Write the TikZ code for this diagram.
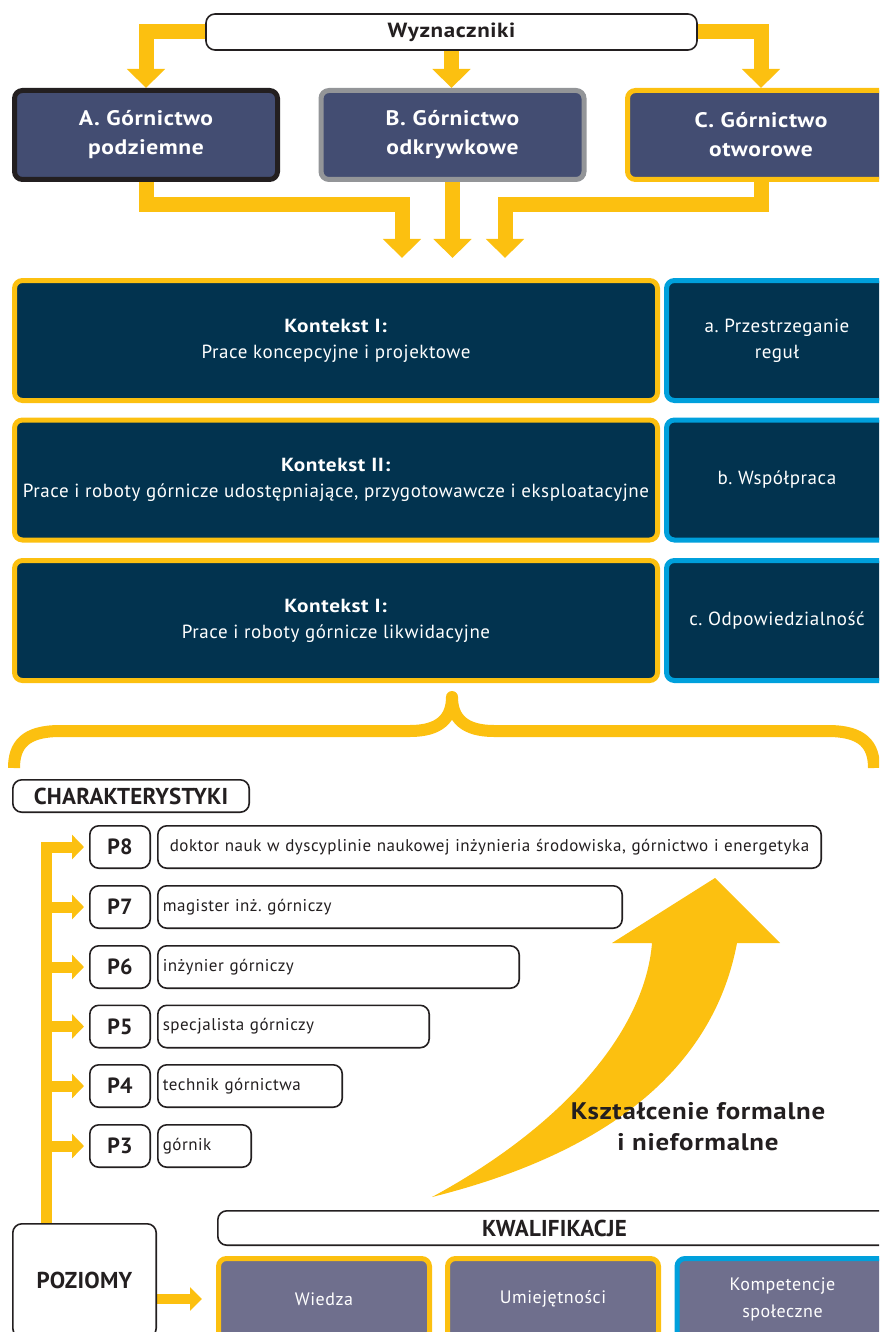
\documentclass[tikz,border=0pt]{standalone}
\usepackage{fontspec}
\setmainfont{PT Sans}[LetterSpace=3, BoldFeatures={FakeStretch=1.12}]
\newfontfamily\capsfont{PT Sans}[LetterSpace=1]
\usetikzlibrary{arrows.meta}
\definecolor{yel}{HTML}{FCC010}
\definecolor{slate}{HTML}{434D72}
\definecolor{navy}{HTML}{02334F}
\definecolor{sky}{HTML}{00A0DC}
\definecolor{grayb}{HTML}{939598}
\definecolor{lav}{HTML}{6F6F8D}
\definecolor{ink}{HTML}{231F20}
\pgfdeclarelayer{bg}
\pgfsetlayers{bg,main}
\frenchspacing
\begin{document}
\begin{tikzpicture}[x=1pt,y=-1pt,
  yarrow/.style={draw=yel, line width=15pt, line join=miter, -{Triangle[width=37pt,length=19pt]}},
  larrow/.style={draw=yel, line width=11pt, line join=miter, -{Triangle[width=24pt,length=12pt]}},
  parrow/.style={draw=yel, line width=10pt, -{Triangle[width=23pt,length=12pt]}},
  wbox/.style={draw=ink, line width=1.6pt, fill=white, rounded corners=9pt, inner sep=0pt, text=ink, align=center},
  capsbig/.style={font=\capsfont\bfseries\fontsize{23}{27}\selectfont},
  capsp/.style={font=\capsfont\bfseries\fontsize{22}{26}\selectfont},
  mbox/.style={line width=5pt, fill=slate, rounded corners=8pt, text=white, font=\bfseries\fontsize{21}{29}\selectfont, align=center, minimum width=263pt, minimum height=89pt, inner sep=0pt},
  kbox/.style={draw=yel, line width=5pt, fill=navy, rounded corners=8pt, text=white, align=center, font=\fontsize{19}{26}\selectfont, minimum width=643pt, minimum height=120pt, inner sep=0pt},
  rbox/.style={kbox, draw=sky, minimum width=221pt},
  pbox/.style={wbox, capsp, minimum width=60.4pt, minimum height=42.4pt},
  lbox/.style={wbox, anchor=west, align=left, inner xsep=5pt, font=\fontsize{17}{20}\selectfont, minimum height=42.4pt},
  qbox/.style={line width=5pt, fill=lav, rounded corners=8pt, text=white, align=center, font=\fontsize{18}{27}\selectfont, minimum width=211pt, minimum height=81pt, inner sep=0pt}
]
\useasboundingbox (0,0) rectangle (879,1332);
\clip (0,0) rectangle (879,1332);

% top
\node[wbox, font=\bfseries\fontsize{20.5}{24}\selectfont, minimum width=491pt, minimum height=36pt] (wyz) at (451.5,32) {Wyznaczniki};
\node[mbox, draw=ink] (A) at (146,135) {A. Górnictwo\\podziemne};
\node[mbox, draw=grayb] (B) at (452.5,135) {B. Górnictwo\\odkrywkowe};
\node[mbox, draw=yel, minimum width=267pt] (C) at (761,135) {C. Górnictwo\\otworowe};

% contexts
\node[kbox] (k1) at (336,340.5) {\textbf{Kontekst I:}\\Prace koncepcyjne i projektowe};
\node[kbox] (k2) at (336,480) {\textbf{Kontekst II:}\\Prace i roboty górnicze udostępniające, przygotowawcze i eksploatacyjne};
\node[kbox] (k3) at (336,620.5) {\textbf{Kontekst I:}\\Prace i roboty górnicze likwidacyjne};
\node[rbox] (r1) at (777,340.5) {a. Przestrzeganie\\reguł};
\node[rbox] (r2) at (777,480) {b. Współpraca};
\node[rbox] (r3) at (777,620.5) {c. Odpowiedzialność};

% brace
\draw[yel, line width=12pt, line join=round]
  (14,768) .. controls (14,745) and (25,731) .. (60,731) -- (410,731)
  .. controls (440,731) and (452,718) .. (452,697)
  .. controls (452,718) and (464,731) .. (494,731) -- (828,731)
  .. controls (863,731) and (874,745) .. (874,768);

% characteristics
\node[wbox, capsbig, minimum width=236.4pt, minimum height=32.4pt] (char) at (131,796) {CHARAKTERYSTYKI};

\node[pbox] (p8) at (120,847) {P8};
\node[pbox] (p7) at (120,907) {P7};
\node[pbox] (p6) at (120,967) {P6};
\node[pbox] (p5) at (120,1026.5) {P5};
\node[pbox] (p4) at (120,1086) {P4};
\node[pbox] (p3) at (120,1146) {P3};

\node[lbox, align=center, text width=653.4pt] (l8) at (157,847) {doktor nauk w dyscyplinie naukowej inżynieria środowiska, górnictwo i energetyka};
\node[lbox, text width=454.4pt] (l7) at (157,907) {magister inż. górniczy};
\node[lbox, text width=351.4pt] (l6) at (157,967) {inżynier górniczy};
\node[lbox, text width=261.4pt] (l5) at (157,1026.5) {specjalista górniczy};
\node[lbox, text width=174.4pt] (l4) at (157,1086) {technik górnictwa};
\node[lbox, text width=83.4pt] (l3) at (157,1146) {górnik};

% curved arrow
\fill[yel] (432,1197) .. controls (565,1125) and (645,1030) .. (652,943)
  -- (612,943) -- (715,878) -- (780,943) -- (737,943)
  .. controls (715,1060) and (620,1150) .. (432,1197) -- cycle;
\node[text=ink, align=center, font=\bfseries\fontsize{24}{31}\selectfont] (ksz) at (698,1127) {Kształcenie formalne\\i nieformalne};

% bottom
\node[wbox, capsbig, minimum width=143.4pt, minimum height=113.4pt] (poz) at (84.5,1280.5) {POZIOMY};
\node[wbox, capsbig, minimum width=673.4pt, minimum height=34.4pt] (kwal) at (554.5,1228) {KWALIFIKACJE};
\node[qbox, draw=yel] (wie) at (324,1299) {Wiedza};
\node[qbox, draw=yel] (umi) at (553,1299) {Umiejętności};
\node[qbox, draw=sky] (kom) at (782.5,1299) {Kompetencje\\społeczne};

\coordinate (bar) at (46.5,0);
\coordinate (j1) at (402,205);
\coordinate (j3) at (505,205);

\begin{pgfonlayer}{bg}
\draw[yarrow] (wyz.west) -| (A.north);
\draw[yarrow] (wyz.south) -- (wyz.south |- A.north);
\draw[yarrow] (wyz.east) -| (C.north);
\draw[yarrow, shorten >=20pt] (A.south) |- (j1) -- (j1 |- k1.north);
\draw[yarrow, shorten >=20pt] (B.south) -- (B.south |- k1.north);
\draw[yarrow, shorten >=20pt] (C.south) |- (j3) -- (j3 |- k1.north);
\draw[larrow, shorten >=5pt] (poz.north -| bar) |- (p8.west);
\draw[larrow, shorten >=5pt] (p7.west -| bar) -- (p7.west);
\draw[larrow, shorten >=5pt] (p6.west -| bar) -- (p6.west);
\draw[larrow, shorten >=5pt] (p5.west -| bar) -- (p5.west);
\draw[larrow, shorten >=5pt] (p4.west -| bar) -- (p4.west);
\draw[larrow, shorten >=5pt] (p3.west -| bar) -- (p3.west);
\draw[parrow, shorten >=14pt] (poz.east |- wie.west) -- (wie.west);
\end{pgfonlayer}
\end{tikzpicture}
\end{document}
